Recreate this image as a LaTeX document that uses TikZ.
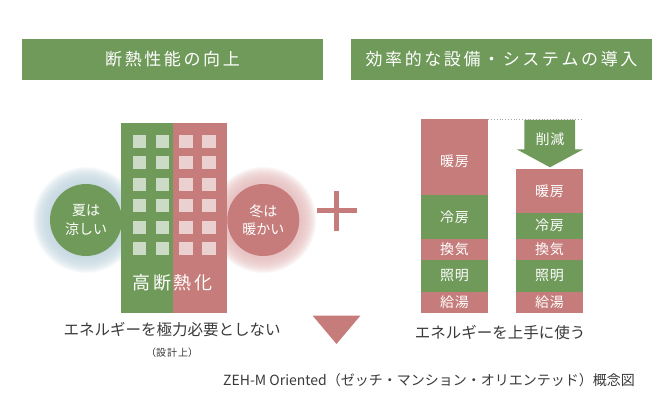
\documentclass[tikz,border=0pt]{standalone}
\usepackage{fontspec}
\setmainfont{Noto Sans CJK JP}
\definecolor{zg}{HTML}{6F9A5A}
\definecolor{zr}{HTML}{C57C7A}
\definecolor{zt}{HTML}{3A3A3A}
\definecolor{glowB}{HTML}{C4D8E2}
\definecolor{glowR}{HTML}{E8BEBE}
\newcommand{\fs}[1]{\fontsize{#1pt}{#1pt}\selectfont}
\newcommand{\kk}{\kern2.6pt}
\begin{document}
\begin{tikzpicture}[x=1pt,y=-1pt,
  header/.style={fill=zg,draw=none},
  wtext/.style={text=white,inner sep=0pt,font=\fs{14}},
  dtext/.style={text=zt,inner sep=0pt},
  win/.style={fill=white,fill opacity=0.65},
  gseg/.style={fill=zg},
  rseg/.style={fill=zr}]
\useasboundingbox[fill=white] (0,0) rectangle (670,420);
% headers
\fill[header] (22,39) rectangle (323,80);
\node[wtext,font=\fs{17}] (h1) at (172.5,59.5) {断\kk 熱\kk 性\kk 能\kk の\kk 向\kk 上};
\fill[header] (351,39) rectangle (652,80);
\node[wtext,font=\fs{17}] (h2) at (501.5,59.5) {効\kk 率\kk 的\kk な\kk 設\kk 備\kk ・\kk シ\kk ス\kk テ\kk ム\kk の\kk 導\kk 入};
% halos
\foreach \r in {37,...,53} {
  \fill[glowB,fill opacity=0.11] (86,220) circle (\r);
  \fill[glowR,fill opacity=0.11] (263.3,220) circle (\r);
}
% building
\fill[zg] (121,123) rectangle (173,313);
\fill[zr] (173,123) rectangle (227,313);
\foreach \c in {0,1,2,3}
  \foreach \r in {0,...,5}
    \fill[win] ({132.8+\c*23.2},{135+\r*21.45}) rectangle ++(13.3,13);
\node[wtext,font=\fs{18}] (koudan) at (172.5,283) {高\kern2.6pt 断\kern2.6pt 熱\kern2.6pt 化};
% circles
\fill[zg] (86,220) circle (36);
\node[wtext,align=center,font=\fs{14}] (natsu) at (86,220) {夏は\\[4.5pt]涼しい};
\fill[zr] (263.3,220) circle (36);
\node[wtext,align=center,font=\fs{14}] (fuyu) at (263.3,220) {冬は\\[4.5pt]暖かい};
% plus
\fill[zr] (316.7,208.4) rectangle (356.7,213);
\fill[zr] (334.4,190.5) rectangle (339,230.5);
% triangle
\fill[zr] (312.5,315.5) -- (360.5,315.5) -- (336.5,344) -- cycle;
% bottom texts
\node[dtext,font=\fs{15.5}] (t1) at (172,330) {エネルギーを極力必要としない};
\node[dtext,font=\fs{10}] (t2) at (172,353) {（設\kern1pt 計\kern1pt 上）};
\node[dtext,font=\fs{15.5}] (t3) at (500,333) {エネルギーを上手に使う};
\node[dtext,font=\fs{14},anchor=west] (cap) at (223,380.5) {ZEH-M Oriented（ゼッチ・マンション・オリエンテッド）概念図};
% left bar
\fill[rseg] (420.7,119.3) rectangle (488.3,195);
\fill[gseg] (420.7,195) rectangle (488.3,239);
\fill[rseg] (420.7,239) rectangle (488.3,260);
\fill[gseg] (420.7,260) rectangle (488.3,291.7);
\fill[rseg] (420.7,291.7) rectangle (488.3,312.7);
\node[wtext] (a1) at (454.5,161.7) {暖\kern1pt 房};
\node[wtext] (a2) at (454.5,217.5) {冷\kern1pt 房};
\node[wtext] (a3) at (454.5,249.5) {換\kern1pt 気};
\node[wtext] (a4) at (454.5,275.5) {照\kern1pt 明};
\node[wtext] (a5) at (454.5,302.5) {給\kern1pt 湯};
% right bar
\fill[rseg] (515.7,168.7) rectangle (583.3,213.3);
\fill[gseg] (515.7,213.3) rectangle (583.3,239);
\fill[rseg] (515.7,239) rectangle (583.3,260);
\fill[gseg] (515.7,260) rectangle (583.3,291.7);
\fill[rseg] (515.7,291.7) rectangle (583.3,312.7);
\node[wtext] (b1) at (549.5,191) {暖\kern1pt 房};
\node[wtext] (b2) at (549.5,225.5) {冷\kern1pt 房};
\node[wtext] (b3) at (549.5,249.5) {換\kern1pt 気};
\node[wtext] (b4) at (549.5,275.5) {照\kern1pt 明};
\node[wtext] (b5) at (549.5,302.5) {給\kern1pt 湯};
% dotted line and arrow
\coordinate (d1) at (488.3,119.5);
\coordinate (d2) at (583.3,119.5);
\draw[gray!70,dotted,line width=0.8pt] (d1) -- (d2);
\fill[zg] (524.3,120) -- (575,120) -- (575,149.3) -- (583.3,149.3) -- (550,167.3) -- (516.7,149.3) -- (524.3,149.3) -- cycle;
\node[wtext] (sakugen) at (550,139) {削\kern1pt 減};
\end{tikzpicture}
\end{document}
